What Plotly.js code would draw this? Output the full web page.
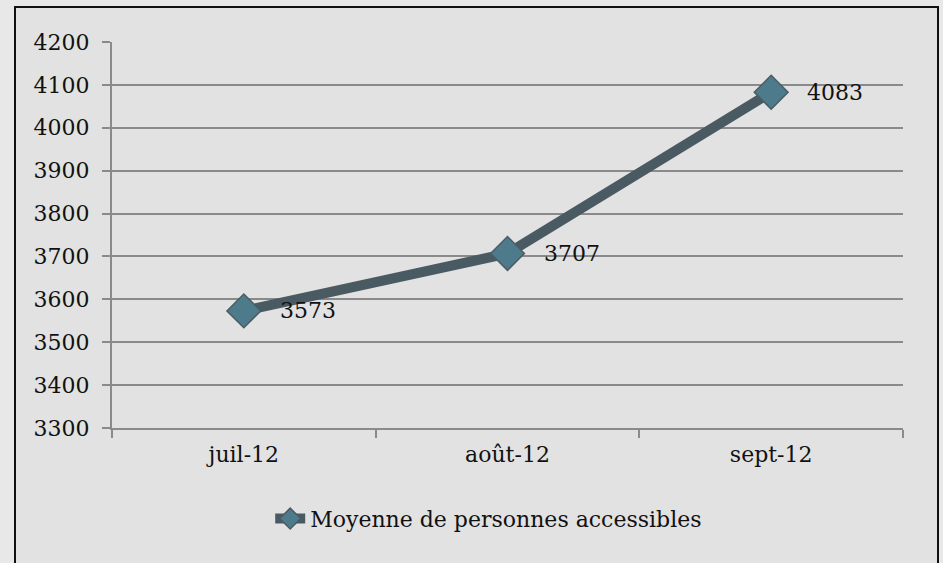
<!DOCTYPE html>
<html><head><meta charset="utf-8">
<script src="https://cdn.plot.ly/plotly-3.0.1.min.js"></script>
<style>
html,body{margin:0;padding:0;background:#e8e8e8;}
#wrap{position:relative;width:943px;height:563px;overflow:hidden;}
#chart{position:absolute;left:0;top:0;width:943px;height:563px;}
#box{position:absolute;left:14px;top:6px;width:921px;height:600px;border:2px solid #111;background:#e2e2e2;}
</style></head>
<body>
<div id="wrap"><div id="box"></div><div id="chart"></div></div>
<script>
const categories = ["juil-12", "août-12", "sept-12"];
const values = [3573, 3707, 4083];
const seriesName = "Moyenne de personnes accessibles";
const yTicks = [3300, 3400, 3500, 3600, 3700, 3800, 3900, 4000, 4100, 4200];

const font = "DejaVu Serif";
const fs = 22;
const labelAnnotations = categories.map((c, i) => ({
  x: c, y: values[i], xref: "x", yref: "y",
  text: String(values[i]), showarrow: false,
  xanchor: "left", yanchor: "middle", xshift: 34, yshift: 0,
  font: {family: font, size: fs, color: "#111"}
}));

Plotly.newPlot("chart", [{
  type: "scatter",
  mode: "lines+markers",
  x: categories,
  y: values,
  name: seriesName,
  line: {color: "#4a5a62", width: 10},
  marker: {symbol: "diamond", size: 26, color: "#4e7b8c", line: {color: "#4a5c64", width: 1.5}},
  cliponaxis: false
}], {
  width: 943, height: 563,
  margin: {l: 112, r: 40, t: 42, b: 135},
  paper_bgcolor: "rgba(0,0,0,0)",
  plot_bgcolor: "rgba(0,0,0,0)",
  font: {family: font, size: fs, color: "#111"},
  showlegend: true,
  legend: {orientation: "h", x: 0.2, xanchor: "left", y: -0.235, yanchor: "middle",
           font: {family: font, size: fs, color: "#111"}, bgcolor: "rgba(0,0,0,0)"},
  annotations: labelAnnotations,
  xaxis: {
    type: "category", range: [-0.5, 2.5], tickson: "boundaries",
    ticks: "outside", ticklen: 8, tickwidth: 2, tickcolor: "#8a8a8a",
    showline: true, linecolor: "#8a8a8a", linewidth: 2,
    showgrid: false, zeroline: false, ticklabelstandoff: 6,
    tickfont: {family: font, size: fs, color: "#111"}
  },
  yaxis: {
    range: [3300, 4200], tickvals: yTicks, ticktext: yTicks.map(String),
    ticks: "outside", ticklen: 8, tickwidth: 2, tickcolor: "#8a8a8a",
    showline: true, linecolor: "#8a8a8a", linewidth: 2,
    showgrid: true, gridcolor: "#8a8a8a", gridwidth: 2, zeroline: false,
    ticklabelstandoff: 8,
    tickfont: {family: font, size: fs, color: "#111"}
  }
}, {staticPlot: true});
</script>
</body></html>
